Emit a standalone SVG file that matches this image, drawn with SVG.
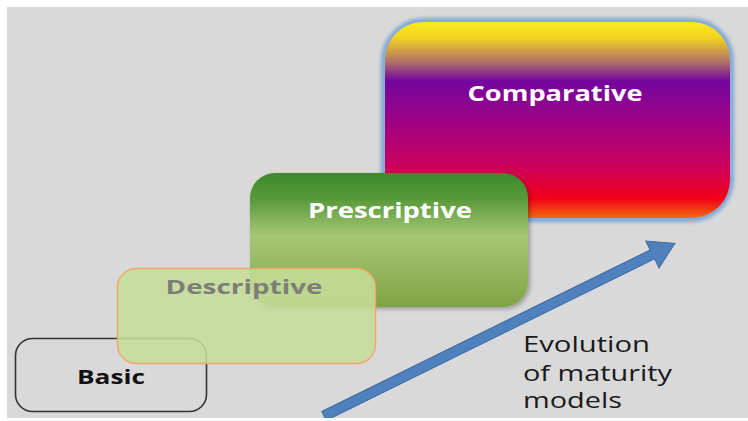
<svg xmlns="http://www.w3.org/2000/svg" width="748" height="421" viewBox="0 0 748 421">
  <style>
    .label { font-family: "Open Sans", "Liberation Sans", sans-serif; font-weight: bold; text-anchor: middle; }
    .note { font-family: "Open Sans", "Liberation Sans", sans-serif; font-size: 21px; fill: #1a1a1a; }
  </style>
  <defs>
    <linearGradient id="gradComparative" x1="0" y1="0" x2="0" y2="1">
      <stop offset="0" stop-color="#fbea1c"/>
      <stop offset="0.08" stop-color="#f2d320"/>
      <stop offset="0.2" stop-color="#b27466"/>
      <stop offset="0.3" stop-color="#74069e"/>
      <stop offset="0.55" stop-color="#a6027e"/>
      <stop offset="0.75" stop-color="#cf0058"/>
      <stop offset="0.9" stop-color="#f20018"/>
      <stop offset="1" stop-color="#f06a10"/>
    </linearGradient>
    <linearGradient id="gradPrescriptive" x1="0" y1="0" x2="0" y2="1">
      <stop offset="0" stop-color="#3b8a2d"/>
      <stop offset="0.2" stop-color="#5a9b3c"/>
      <stop offset="0.47" stop-color="#a7c674"/>
      <stop offset="0.75" stop-color="#93b55c"/>
      <stop offset="1" stop-color="#7fa343"/>
    </linearGradient>
    <filter id="glow" x="-10%" y="-10%" width="120%" height="120%">
      <feGaussianBlur stdDeviation="2"/>
    </filter>
    <filter id="shadow" x="-10%" y="-10%" width="125%" height="125%">
      <feDropShadow dx="2" dy="2" stdDeviation="2" flood-color="#000" flood-opacity="0.3"/>
    </filter>
  </defs>

  <!-- slide background -->
  <rect width="748" height="421" fill="#d9d9d9"/>

  <g id="node-comparative">
    <rect x="384" y="21" width="347" height="198" rx="40" fill="none" stroke="#6b9bd8" stroke-width="5" filter="url(#glow)"/>
    <rect x="385" y="22" width="345" height="196" rx="38" fill="url(#gradComparative)"/>
    <text class="label" x="555" y="101" font-size="22" fill="#ffffff" textLength="175" lengthAdjust="spacingAndGlyphs">Comparative</text>
  </g>

  <g id="node-prescriptive">
    <rect x="250" y="173" width="278" height="134" rx="25" fill="url(#gradPrescriptive)" filter="url(#shadow)"/>
    <text class="label" x="390" y="218" font-size="21" fill="#ffffff" textLength="164" lengthAdjust="spacingAndGlyphs">Prescriptive</text>
  </g>

  <g id="node-basic">
    <rect x="15.5" y="338.5" width="191" height="73" rx="17" fill="none" stroke="#333333" stroke-width="1.6"/>
    <text class="label" x="111" y="384" font-size="19" fill="#111111" textLength="68" lengthAdjust="spacingAndGlyphs">Basic</text>
  </g>

  <g id="node-descriptive">
    <rect x="117.5" y="268.5" width="258" height="95" rx="19" fill="#c6dc9a" fill-opacity="0.88" stroke="#f0a666" stroke-width="1.4"/>
    <text class="label" x="244" y="294" font-size="19" fill="#7b7f75" textLength="157" lengthAdjust="spacingAndGlyphs">Descriptive</text>
  </g>

  <g id="connectors">
    <path transform="translate(324,416) rotate(-26.2)" d="M0,-5 L366,-5 L366,-15 L391,0 L366,15 L366,5 L0,5 Z" fill="#4f81bd" stroke="#3c6aa5" stroke-width="1"/>
  </g>

  <g id="caption">
    <text class="note" x="523" y="352" textLength="127" lengthAdjust="spacingAndGlyphs">Evolution</text>
    <text class="note" x="523" y="381" textLength="149" lengthAdjust="spacingAndGlyphs">of maturity</text>
    <text class="note" x="523" y="408" textLength="99" lengthAdjust="spacingAndGlyphs">models</text>
  </g>

  <!-- white page margin -->
  <path d="M0,0 H748 V7 H7 V418 H748 V421 H0 Z" fill="#ffffff"/>
</svg>
